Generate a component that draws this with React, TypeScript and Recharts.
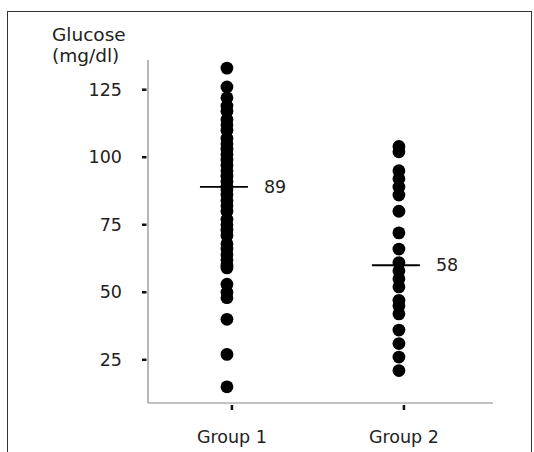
import React from 'react';
import { ScatterChart, Scatter, XAxis, YAxis } from 'recharts';

const groups = ['Group 1', 'Group 2'];
const yTicks = [25, 50, 75, 100, 125];

const group1 = [
  133, 126, 122, 119, 117, 114, 112, 110, 107, 105, 103, 101, 99, 97, 95, 93, 91,
  89, 88, 86, 84, 82, 80, 77, 75, 73, 71, 68, 66, 64, 62, 60, 59, 53, 50, 48, 40,
  27, 15,
];
const group2 = [
  104, 102, 95, 92, 89, 86, 80, 72, 66, 61, 58, 55, 52, 47, 45, 42, 36, 31, 26, 21,
];

// line position and printed label for each group
const meanValues = [89, 60];
const meanLabels = ['89', '58'];

const FONT = '"DejaVu Sans", Arial, sans-serif';

const g1Data = group1.map((v) => ({ x: 1, y: v }));
const g2Data = group2.map((v) => ({ x: 2, y: v }));
const meanData = meanValues.map((v, i) => ({ x: i + 1, y: v, label: meanLabels[i] }));

const Dot = (props: any) => {
  const { cx, cy } = props;
  return <circle cx={cx} cy={cy} r={6.4} fill="#000" />;
};

const MeanMark = (props: any) => {
  const { cx, cy, payload } = props;
  return (
    <g>
      <line x1={cx - 27} x2={cx + 21} y1={cy} y2={cy} stroke="#000" strokeWidth={1.8} />
      <text x={cx + 37} y={cy} dy={6} fontSize={17.5} fontFamily={FONT} fill="#222">
        {payload.label}
      </text>
    </g>
  );
};

const YTick = (props: any) => {
  const { x, y, payload } = props;
  return (
    <g>
      <line x1={x - 6} x2={x - 1.5} y1={y} y2={y} stroke="#111" strokeWidth={2.5} />
      <text x={x - 26} y={y} dy={6} textAnchor="end" fontSize={17.5} fontFamily={FONT} fill="#222">
        {payload.value}
      </text>
    </g>
  );
};

const XTick = (props: any) => {
  const { x, y, payload } = props;
  return (
    <g>
      <line x1={x + 5} x2={x + 5} y1={y + 2} y2={y + 7} stroke="#111" strokeWidth={2.5} />
      <text x={x + 5} y={y + 40} textAnchor="middle" fontSize={17.5} fontFamily={FONT} fill="#222">
        {groups[payload.value - 1]}
      </text>
    </g>
  );
};

export default function App() {
  return (
    <div style={{ position: 'fixed', left: 0, top: 0, width: 534, height: 452, background: '#fff', overflow: 'hidden' }}>
      <div
        style={{
          position: 'absolute',
          left: 7,
          top: 11,
          width: 523,
          height: 460,
          border: '1px solid #333',
        }}
      />
      <div style={{ position: 'absolute', left: 52, top: 24, fontFamily: FONT, fontSize: 18.5, lineHeight: '21px', color: '#222' }}>
        Glucose
        <br />
        (mg/dl)
      </div>
      <div style={{ position: 'absolute', left: 0, top: 0 }}>
        <ScatterChart width={534} height={452} margin={{ top: 60, right: 41, bottom: 0, left: 0 }}>
          <XAxis
            type="number"
            dataKey="x"
            domain={[0.541, 2.547]}
            ticks={[1, 2]}
            height={49}
            axisLine={{ stroke: '#888', strokeWidth: 1.2 }}
            tickLine={false}
            tickSize={0}
            tickMargin={0}
            tick={<XTick />}
            allowDataOverflow
          />
          <YAxis
            type="number"
            dataKey="y"
            domain={[9, 136]}
            ticks={yTicks}
            width={148}
            axisLine={{ stroke: '#888', strokeWidth: 1.2 }}
            tickLine={false}
            tickSize={0}
            tickMargin={0}
            tick={<YTick />}
            allowDataOverflow
          />
          <Scatter data={g1Data} shape={<Dot />} isAnimationActive={false} />
          <Scatter data={g2Data} shape={<Dot />} isAnimationActive={false} />
          <Scatter data={meanData} shape={<MeanMark />} isAnimationActive={false} />
        </ScatterChart>
      </div>
    </div>
  );
}
